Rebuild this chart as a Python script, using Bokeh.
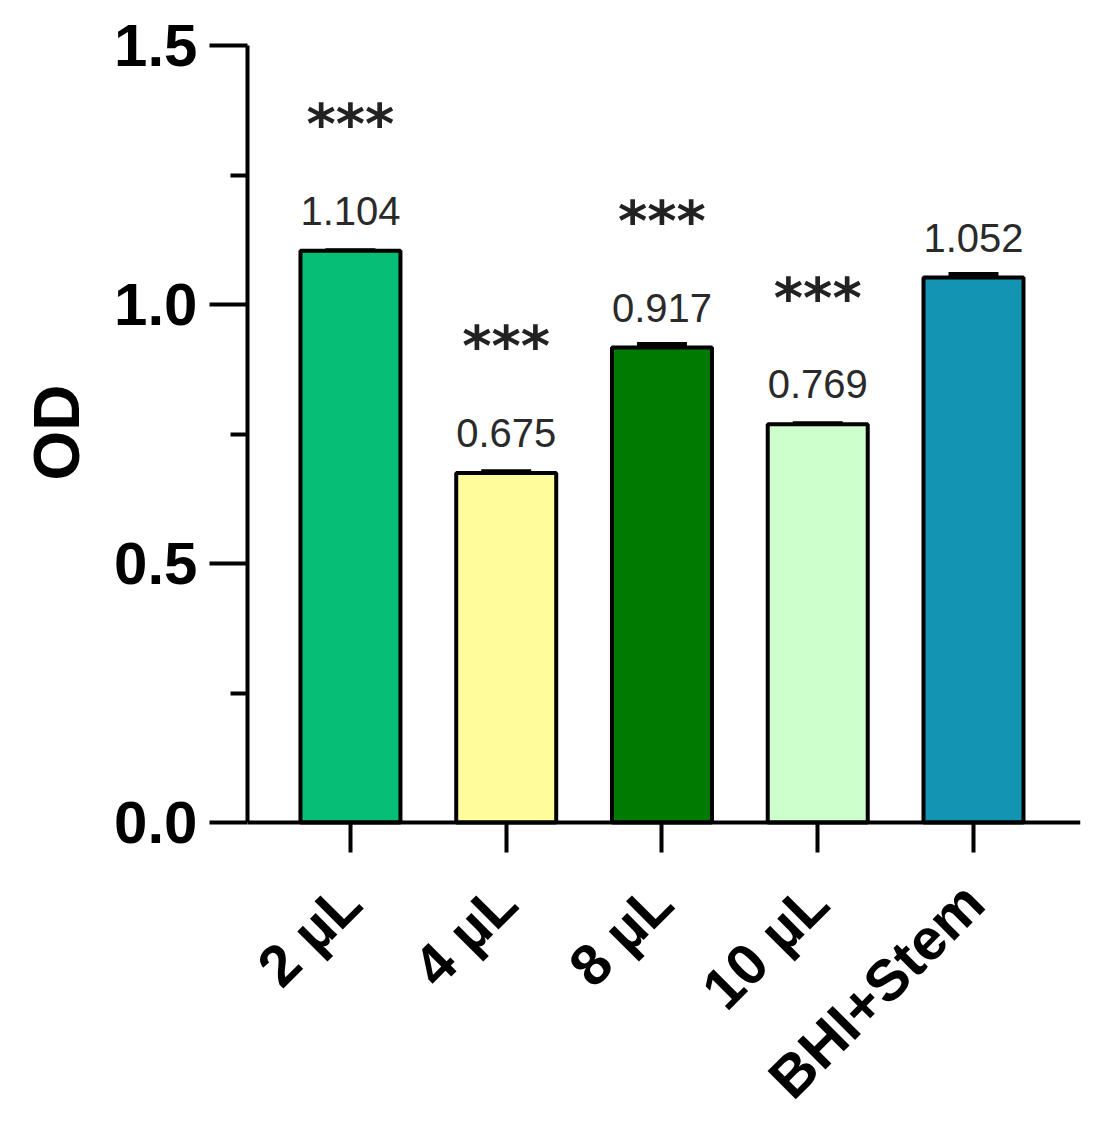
import math
from bokeh.plotting import figure
from bokeh.models import FixedTicker, ColumnDataSource, Whisker, TeeHead, Range1d, Title
from bokeh.core.properties import value
from bokeh.embed import file_html
from bokeh.resources import INLINE

# ---- data ----
categories = ["2 µL", "4 µL", "8 µL", "10 µL", "BHI+Stem"]
od_values = [1.104, 0.675, 0.917, 0.769, 1.052]
od_errors = [0.001, 0.003, 0.007, 0.002, 0.007]
value_labels = ["1.104", "0.675", "0.917", "0.769", "1.052"]
significance = ["***", "***", "***", "***", ""]
bar_colors = ["#07BE77", "#FFFC9C", "#007A00", "#CCFFCC", "#1294B2"]
y_ticks = [0.0, 0.5, 1.0, 1.5]
y_minor_ticks = [0.25, 0.75, 1.25]
y_tick_labels = ["0.0", "0.5", "1.0", "1.5"]
y_title = "OD"

FONT = "Liberation Sans"

xs = list(range(len(categories)))
src = ColumnDataSource(dict(
    x=xs, top=od_values, upper=[v + e for v, e in zip(od_values, od_errors)],
    color=bar_colors, vlabel=value_labels, sig=significance,
))

# the frame extends below 0 so that the rotated category labels have room;
# the x axis is pinned at y = 0 and the y axis is bounded to [0, 1.5]
p = figure(width=1100, height=1116, output_backend="svg", toolbar_location=None,
           x_range=Range1d(-0.661, 4.687), y_range=Range1d(-0.548, 1.5),
           min_border_left=247, min_border_right=20,
           min_border_top=45, min_border_bottom=10)
p.outline_line_color = None
p.grid.grid_line_color = None
p.background_fill_color = "white"
p.border_fill_color = "white"

# whiskers (error bars)
w = Whisker(base="x", upper="upper", lower="top", source=src,
            line_color="black", line_width=4,
            upper_head=TeeHead(size=50, line_color="black", line_width=4),
            lower_head=None)
p.add_layout(w)

p.vbar(x="x", top="top", bottom=0, width=0.642, source=src,
       fill_color="color", line_color="black", line_width=4)

p.text(x="x", y="top", text="vlabel", source=src, y_offset=-40,
       text_align="center", text_baseline="middle",
       text_font=value(FONT), text_font_size="40px", text_color="#2a2a2a")

p.text(x="x", y="top", text="sig", source=src, y_offset=-127,
       text_align="center", text_baseline="middle",
       text_font=value("DejaVu Sans"), text_font_style="bold",
       text_font_size="56px", text_color="#222222")

# x axis
xa = p.xaxis[0]
xa.fixed_location = 0
xa.ticker = FixedTicker(ticks=xs)
xa.major_label_overrides = {i: c for i, c in zip(xs, categories)}
xa.major_label_orientation = math.pi / 4
xa.major_label_text_font = FONT
xa.major_label_text_font_style = "bold"
xa.major_label_text_font_size = "58px"
xa.major_label_text_color = "black"
xa.major_label_standoff = 40
xa.axis_line_width = 4
xa.axis_line_color = "black"
xa.major_tick_line_width = 4
xa.major_tick_out = 30
xa.major_tick_in = 0
xa.minor_tick_line_color = None

# y axis
ya = p.yaxis[0]
ya.bounds = (0, 1.5)
ya.ticker = FixedTicker(ticks=y_ticks, minor_ticks=y_minor_ticks)
ya.major_label_overrides = {t: l for t, l in zip(y_ticks, y_tick_labels)}
ya.major_label_text_font = FONT
ya.major_label_text_font_style = "bold"
ya.major_label_text_font_size = "60px"
ya.major_label_text_color = "black"
ya.major_label_standoff = 12
ya.axis_line_width = 4
ya.axis_line_color = "black"
ya.major_tick_line_width = 4
ya.major_tick_out = 38
ya.major_tick_in = 0
ya.minor_tick_line_width = 4
ya.minor_tick_out = 17
ya.minor_tick_in = 0

# y axis title, placed beside the bounded axis (centred on 0..1.5, not the whole frame)
t = Title(text=y_title, align="left", offset=626, standoff=37,
          text_font=FONT, text_font_style="bold", text_font_size="64px",
          text_color="black")
p.add_layout(t, "left")

open("out.html", "w").write(file_html(p, INLINE))
